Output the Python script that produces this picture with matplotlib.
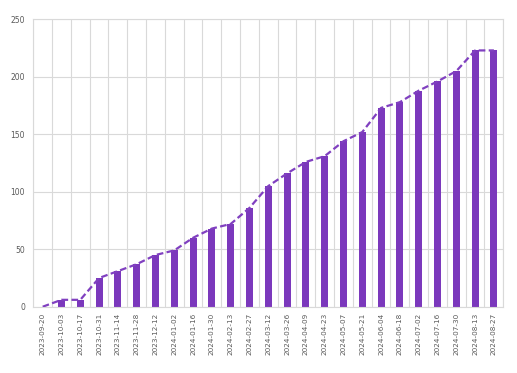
import numpy as np
import matplotlib
matplotlib.use('Agg')
import matplotlib.pyplot as plt

dates = ['2023-09-20', '2023-10-03', '2023-10-17', '2023-10-31', '2023-11-14',
         '2023-11-28', '2023-12-12', '2024-01-02', '2024-01-16', '2024-01-30',
         '2024-02-13', '2024-02-27', '2024-03-12', '2024-03-26', '2024-04-09',
         '2024-04-23', '2024-05-07', '2024-05-21', '2024-06-04', '2024-06-18',
         '2024-07-02', '2024-07-16', '2024-07-30', '2024-08-13', '2024-08-27']
counts = [0, 6, 6, 25, 31, 37, 45, 49, 60, 68, 72, 86, 105, 116, 126,
          131, 144, 152, 173, 178, 188, 196, 205, 223, 223]

bar_color = '#7B38BC'
line_color = '#8040C0'
grid_color = '#D9D9D9'
text_color = '#595959'

fig = plt.figure(figsize=(5.17, 3.73), dpi=100)
ax = fig.add_axes([0.0644, 0.1777, 0.9091, 0.7703])

x = np.arange(len(dates))
ax.bar(x, counts, width=0.38, color=bar_color, zorder=2)
ax.plot(x, counts, linestyle=(0, (3, 1.5)), color=line_color, linewidth=1.6, zorder=3)

ax.set_xlim(-0.5, len(dates) - 0.5)
ax.set_ylim(0, 250)
ax.set_yticks([0, 50, 100, 150, 200, 250])
ax.set_xticks(x)
ax.set_xticklabels(dates, rotation=90, fontsize=5.2, color=text_color)
ax.tick_params(axis='y', labelsize=5.5, colors=text_color, length=0, pad=6)
ax.tick_params(axis='x', length=0, pad=4)

# category boundary gridlines
ax.set_xticks(np.arange(-0.5, len(dates), 1), minor=True)
ax.grid(True, which='minor', axis='x', color=grid_color, linewidth=0.8, zorder=0)
ax.grid(True, which='major', axis='y', color=grid_color, linewidth=0.8, zorder=0)
ax.tick_params(which='minor', length=0)

for sp in ax.spines.values():
    sp.set_color(grid_color)
    sp.set_linewidth(0.8)

fig.savefig('out.png', dpi=100)
